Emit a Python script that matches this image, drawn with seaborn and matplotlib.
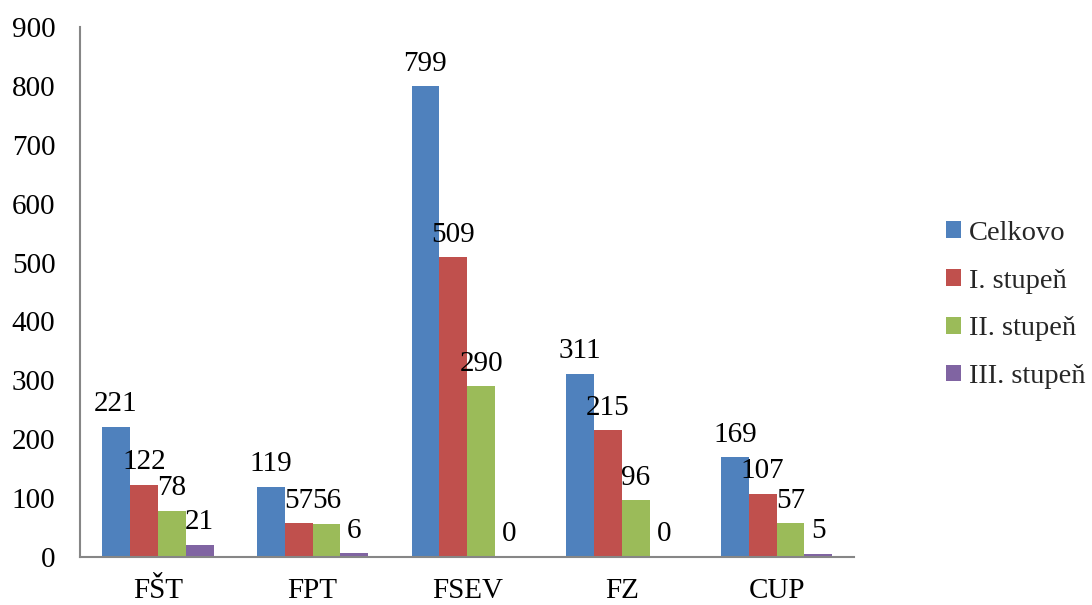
import matplotlib
matplotlib.use("Agg")
import matplotlib.pyplot as plt
import seaborn as sns
import pandas as pd
from matplotlib.patches import Patch

categories = ["FŠT", "FPT", "FSEV", "FZ", "CUP"]
series_names = ["Celkovo", "I. stupeň", "II. stupeň", "III. stupeň"]
celkovo = [221, 119, 799, 311, 169]
stupen1 = [122, 57, 509, 215, 107]
stupen2 = [78, 56, 290, 96, 57]
stupen3 = [21, 6, 0, 0, 5]
colors = ["#4F81BD", "#C0504D", "#9BBB59", "#8064A2"]
yticks = [0, 100, 200, 300, 400, 500, 600, 700, 800, 900]

sns.set_theme(style="white")
plt.rcParams["font.family"] = ["Liberation Serif", "DejaVu Serif"]

rows = []
for name, vals in zip(series_names, [celkovo, stupen1, stupen2, stupen3]):
    for c, v in zip(categories, vals):
        rows.append({"Fakulta": c, "Séria": name, "Hodnota": v})
df = pd.DataFrame(rows)

fig = plt.figure(figsize=(10.92, 6.05), dpi=100)
ax = fig.add_axes([0.0737, 0.0793, 0.7083, 0.8761])

sns.barplot(data=df, x="Fakulta", y="Hodnota", hue="Séria", order=categories,
            hue_order=series_names, palette=colors, width=0.72, linewidth=0,
            errorbar=None, ax=ax, legend=False, saturation=1)

for cont in ax.containers:
    ax.bar_label(cont, fmt="%d", padding=7, fontsize=21, color="black")

ax.set_ylim(0, 900)
ax.set_xlim(-0.5, 4.5)
ax.set_yticks(yticks)
ax.set_yticklabels([str(t) for t in yticks])
ax.set_xlabel("")
ax.set_ylabel("")
ax.tick_params(axis="both", length=0, labelsize=21, colors="black")
ax.tick_params(axis="y", pad=18)
ax.tick_params(axis="x", pad=15)
for s in ["top", "right"]:
    ax.spines[s].set_visible(False)
for s in ["left", "bottom"]:
    ax.spines[s].set_color("#868686")
    ax.spines[s].set_linewidth(1.5)
ax.grid(False)

handles = [Patch(facecolor=c, edgecolor="none", label=n) for c, n in zip(colors, series_names)]
fig.legend(handles=handles, loc="center left", bbox_to_anchor=(0.866, 0.496),
           frameon=False, fontsize=20.5, handlelength=0.53, handleheight=0.53,
           handletextpad=0.3, labelspacing=0.8, borderpad=0, borderaxespad=0)

fig.savefig("out.png", dpi=100)
